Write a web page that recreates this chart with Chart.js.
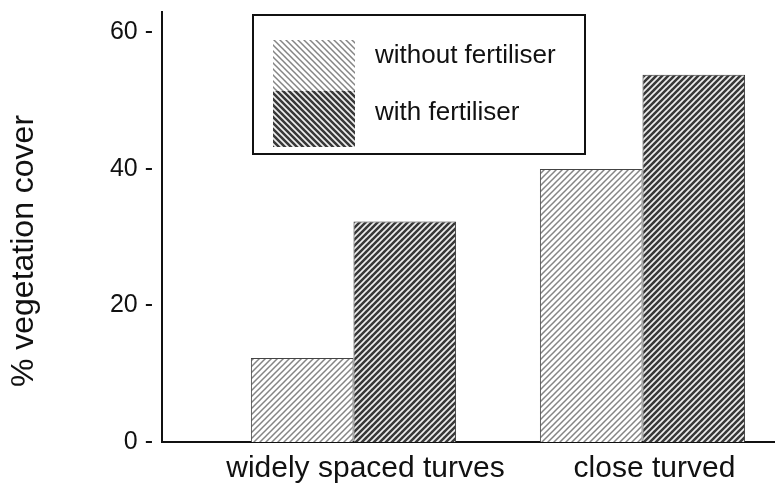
<!DOCTYPE html>
<html>
<head>
<meta charset="utf-8">
<script src="https://cdn.jsdelivr.net/npm/chart.js@4"></script>
<style>
  html, body { margin: 0; padding: 0; background: #ffffff; }
  #wrap { width: 775px; height: 486px; }
</style>
</head>
<body>
<div id="wrap"><canvas id="c" width="775" height="486"></canvas></div>
<script>
const categories = ['widely spaced turves', 'close turved'];
const seriesLabels = ['without fertiliser', 'with fertiliser'];
const withoutFertiliser = [12.3, 40.0];
const withFertiliser = [32.3, 53.8];
const yTickValues = [0, 20, 40, 60];
const yAxisTitle = '% vegetation cover';

const FONT = '"Liberation Sans", Arial, Helvetica, sans-serif';

function hatch(bg, fg, lw, period, dir) {
  const c = document.createElement('canvas');
  c.width = period; c.height = period;
  const x = c.getContext('2d');
  x.fillStyle = bg; x.fillRect(0, 0, period, period);
  x.strokeStyle = fg; x.lineWidth = lw; x.lineCap = 'square';
  x.beginPath();
  for (let k = -1; k <= 1; k++) {
    if (dir === '/') { x.moveTo(k * period, period); x.lineTo(k * period + period, 0); }
    else { x.moveTo(k * period, 0); x.lineTo(k * period + period, period); }
  }
  x.stroke();
  return x.createPattern(c, 'repeat');
}

const lightBar = hatch('#ffffff', '#858585', 1.5, 6, '/');
const darkBar = hatch('#eeeeee', '#383838', 2.5, 6, '/');
const lightKey = hatch('#ffffff', '#858585', 1.5, 6, '\\');
const darkKey = hatch('#eeeeee', '#383838', 2.5, 6, '\\');

const overlay = {
  id: 'overlay',
  afterDraw(chart) {
    const ctx = chart.ctx, ca = chart.chartArea;
    ctx.save();
    // legend box
    const bx = ca.left + 91, by = ca.top + 3, bw = 332, bh = 139;
    ctx.fillStyle = '#ffffff';
    ctx.fillRect(bx, by, bw, bh);
    ctx.lineWidth = 2; ctx.strokeStyle = '#111';
    ctx.strokeRect(bx, by, bw, bh);
    const sx = bx + 20, sw = 82;
    ctx.fillStyle = lightKey; ctx.fillRect(sx, by + 25, sw, 51);
    ctx.fillStyle = darkKey; ctx.fillRect(sx, by + 76, sw, 56);
    ctx.fillStyle = '#111';
    ctx.font = '26px ' + FONT;
    ctx.textAlign = 'left'; ctx.textBaseline = 'middle';
    ctx.fillText(chart.data.datasets[0].label, bx + 122, by + 41);
    ctx.fillText(chart.data.datasets[1].label, bx + 122, by + 98);
    // y axis title
    ctx.translate(24, (ca.top + ca.bottom) / 2 + 24);
    ctx.rotate(-Math.PI / 2);
    ctx.font = '32px ' + FONT;
    ctx.textAlign = 'center'; ctx.textBaseline = 'middle';
    ctx.fillStyle = '#111';
    ctx.fillText(yAxisTitle, 0, 0);
    ctx.restore();
  }
};

new Chart(document.getElementById('c'), {
  type: 'bar',
  data: {
    datasets: [
      {
        label: seriesLabels[0],
        data: withoutFertiliser.map((v, i) => ({ x: i + 1, y: v })),
        backgroundColor: lightBar,
        borderColor: '#444',
        borderWidth: 1
      },
      {
        label: seriesLabels[1],
        data: withFertiliser.map((v, i) => ({ x: i + 1, y: v })),
        backgroundColor: darkBar,
        borderColor: '#333',
        borderWidth: 1
      }
    ]
  },
  options: {
    responsive: false,
    animation: false,
    devicePixelRatio: 1,
    categoryPercentage: 0.71,
    barPercentage: 1.0,
    layout: { padding: { top: 12, left: 0, right: 0, bottom: 0 } },
    plugins: { legend: { display: false }, tooltip: { enabled: false } },
    scales: {
      x: {
        type: 'linear',
        offset: false,
        bounds: 'data',
        min: 0.3374,
        max: 2.4585,
        grid: { display: false, drawTicks: false, offset: false },
        border: { display: true, color: '#111', width: 2 },
        afterBuildTicks: (s) => { s.ticks = categories.map((c, i) => ({ value: i + 1 })); },
        afterFit: (s) => { s.height = 44; s.paddingLeft = 0; s.paddingRight = 0; },
        ticks: {
          autoSkip: false,
          maxRotation: 0,
          padding: 9,
          labelOffset: 12,
          color: '#111',
          font: { family: FONT, size: 30 },
          callback: (v) => categories[Math.round(v) - 1] || ''
        }
      },
      y: {
        min: 0,
        max: 63,
        grid: { display: false, drawTicks: false },
        border: { display: true, color: '#111', width: 2 },
        afterBuildTicks: (s) => { s.ticks = yTickValues.map(v => ({ value: v })); },
        afterFit: (s) => { s.width = 162; s.paddingTop = 0; s.paddingBottom = 0; },
        ticks: {
          padding: 9,
          color: '#111',
          font: { family: FONT, size: 25 },
          callback: (v) => v + ' -'
        }
      }
    }
  },
  plugins: [overlay]
});
</script>
</body>
</html>
